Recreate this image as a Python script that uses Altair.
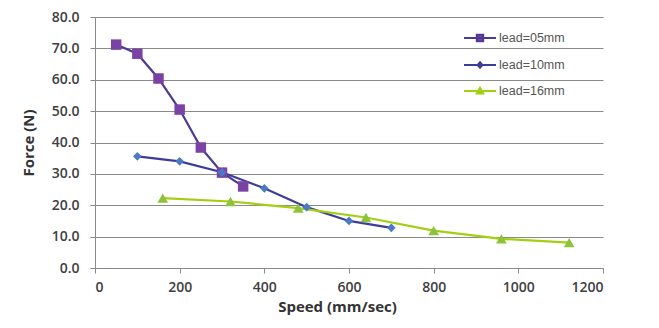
import altair as alt
import pandas as pd

series_names = ["lead=05mm", "lead=10mm", "lead=16mm"]

speed_05 = [50, 100, 150, 200, 250, 300, 350]
force_05 = [71.2, 68.3, 60.4, 50.5, 38.4, 30.4, 26.0]

speed_10 = [100, 200, 300, 400, 500, 600, 700]
force_10 = [35.6, 34.0, 30.5, 25.4, 19.4, 15.0, 12.8]

speed_16 = [160, 320, 480, 640, 800, 960, 1120]
force_16 = [22.3, 21.2, 19.1, 16.1, 11.9, 9.3, 8.1]

line_colors = ["#4E3A90", "#3C3C9A", "#A2CF12"]
marker_colors = ["#7B42A6", "#4A7AC6", "#8DC33B"]
marker_shapes = ["square", "diamond", "triangle-up"]
marker_sizes = [110, 75, 115]

x_ticks = [0, 200, 400, 600, 800, 1000, 1200]
y_ticks = [0, 10, 20, 30, 40, 50, 60, 70, 80]

rows = []
for name, xs, ys in zip(series_names, [speed_05, speed_10, speed_16], [force_05, force_10, force_16]):
    for i, (sx, fy) in enumerate(zip(xs, ys)):
        rows.append({"series": name, "speed": sx, "force": fy, "order": i})
df = pd.DataFrame(rows)

font = "Open Sans"

paths = {
    "lead=05mm": "M-2,0H2M-0.4,-0.4H0.4V0.4H-0.4Z",
    "lead=10mm": "M-2,0H2M0,-0.35L0.3,0L0,0.35L-0.3,0Z",
    "lead=16mm": "M-2,0H2M0,-0.4L0.4,0.3H-0.4Z",
}
shape_expr = (
    "datum.value === 'lead=05mm' ? '" + paths["lead=05mm"] + "' : "
    "datum.value === 'lead=10mm' ? '" + paths["lead=10mm"] + "' : '" + paths["lead=16mm"] + "'"
)
fill_expr = (
    "datum.value === 'lead=05mm' ? '" + marker_colors[0] + "' : "
    "datum.value === 'lead=10mm' ? '" + marker_colors[1] + "' : '" + marker_colors[2] + "'"
)

x_enc = alt.X(
    "speed:Q",
    scale=alt.Scale(domain=[0, 1200], nice=False, zero=False),
    axis=alt.Axis(
        values=x_ticks, format="d", grid=False, title="Speed (mm/sec)", tickSize=5,
        labelPadding=7, titlePadding=5, titleX=242, titleAlign="center",
    ),
)
y_enc = alt.Y(
    "force:Q",
    scale=alt.Scale(domain=[0, 80], nice=False),
    axis=alt.Axis(
        values=y_ticks, format=".1f", grid=True, title="Force (N)", tickSize=5,
        labelPadding=11, titlePadding=15, labelOverlap=False,
    ),
)

base = alt.Chart(df).encode(x=x_enc, y=y_enc)

lines = base.mark_line(strokeWidth=2.2).encode(
    order="order:Q",
    color=alt.Color(
        "series:N",
        scale=alt.Scale(domain=series_names, range=line_colors),
        legend=alt.Legend(
            title=None,
            orient="none",
            legendX=376,
            legendY=12,
            symbolSize=256,
            symbolStrokeWidth=2,
            symbolType=alt.ExprRef(expr=shape_expr),
            symbolFillColor=alt.ExprRef(expr=fill_expr),
            symbolOpacity=1,
            rowPadding=10,
            labelOffset=10,
            labelFont="Liberation Sans",
            labelFontSize=12.5,
            labelColor="#555555",
            padding=0,
        ),
    ),
)

point_layers = []
for name, shape, fill, size in zip(series_names, marker_shapes, marker_colors, marker_sizes):
    point_layers.append(
        base.transform_filter(alt.datum.series == name).mark_point(
            filled=True, opacity=1, shape=shape, color=fill, size=size
        )
    )

chart = (
    alt.layer(lines, *point_layers)
    .properties(
        width=508,
        height=251,
        autosize=alt.AutoSizeParams(type="none"),
        padding={"left": 95, "top": 17, "right": 56, "bottom": 60},
        background="white",
    )
    .configure_view(stroke=None)
    .configure_axis(
        domainColor="#8a8a8a",
        tickColor="#8a8a8a",
        gridColor="#8a8a8a",
        gridWidth=1,
        labelFont=font,
        labelFontSize=14,
        labelFontWeight=600,
        labelColor="#404040",
        titleFont=font,
        titleFontSize=15,
        titleFontWeight="bold",
        titleColor="#333333",
    )
)

chart.save("out.html", embed_options={"renderer": "svg", "actions": False})
